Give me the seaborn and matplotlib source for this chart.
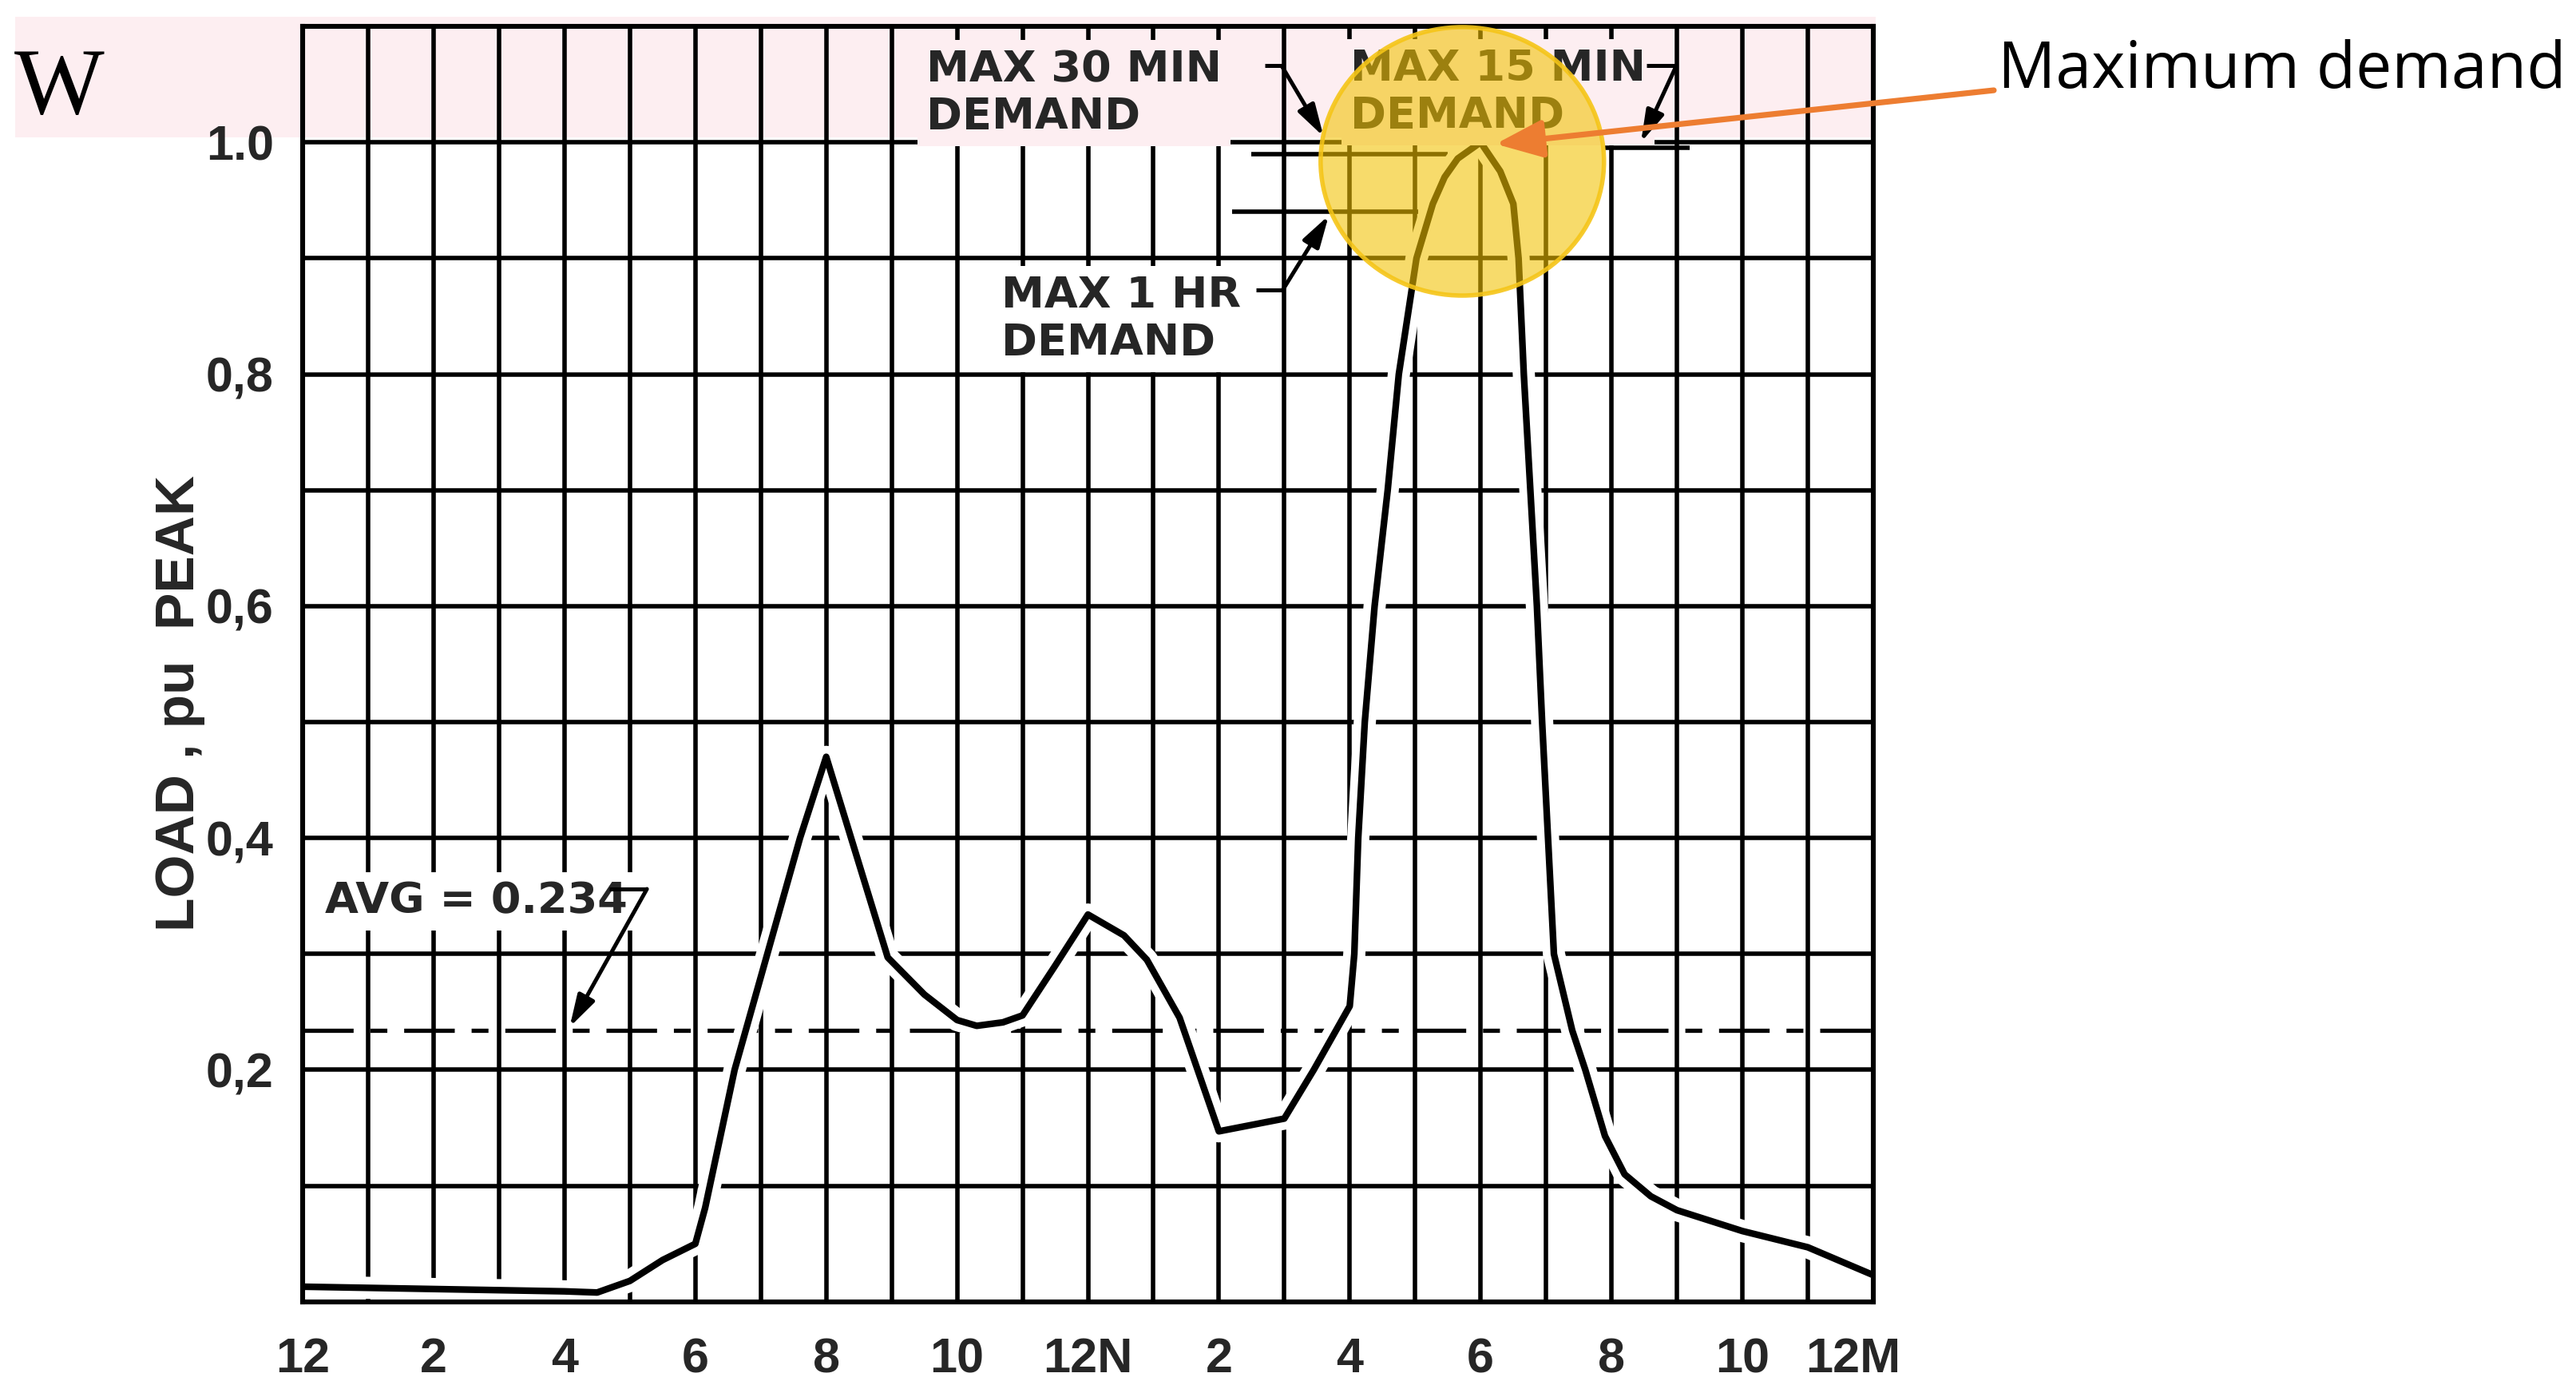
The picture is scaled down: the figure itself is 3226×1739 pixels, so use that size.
#!/usr/bin/env python3
"""Daily load curve (per-unit of peak) with demand annotations, redrawn from a scanned figure."""

import numpy as np
import pandas as pd
import matplotlib
matplotlib.use("Agg")
import matplotlib.pyplot as plt
import matplotlib.patheffects as pe
from matplotlib.patches import Ellipse, Rectangle
from matplotlib.transforms import ScaledTranslation
from matplotlib import font_manager
import seaborn as sns

# ── Values ──────────────────────────────────────────────────────────────────
HOURS = [0, 1, 2, 3, 4, 4.5, 5, 5.5, 6, 6.15, 6.6, 7.1, 7.6, 8, 8.94, 9.5, 10,
         10.3, 10.7, 11, 11.5, 12, 12.55, 12.9, 13.4, 14, 15, 15.45, 16, 16.07,
         16.13, 16.23, 16.38, 16.58, 16.75, 17.02, 17.27, 17.45, 17.65, 18,
         18.3, 18.5, 18.58, 18.66, 18.76, 18.86, 18.94, 19.03, 19.12, 19.4,
         19.6, 19.9, 20.2, 20.6, 21, 22, 23, 24]
LOAD = [0.013, 0.012, 0.011, 0.010, 0.009, 0.008, 0.018, 0.036, 0.050, 0.081,
        0.200, 0.300, 0.400, 0.470, 0.297, 0.265, 0.243, 0.238, 0.241, 0.247,
        0.290, 0.334, 0.316, 0.295, 0.245, 0.147, 0.158, 0.200, 0.255, 0.300,
        0.400, 0.500, 0.600, 0.700, 0.800, 0.900, 0.947, 0.970, 0.986, 1.000,
        0.975, 0.947, 0.900, 0.800, 0.700, 0.600, 0.500, 0.400, 0.300, 0.234,
        0.200, 0.143, 0.110, 0.091, 0.079, 0.061, 0.047, 0.023]

AVG_LOAD = 0.234
MAX_30MIN = 0.99
MAX_30MIN_SPAN = (14.5, 17.5)
MAX_15MIN = 0.995
MAX_15MIN_SPAN = (19.9, 21.2)
MAX_1HR = 0.94
MAX_1HR_SPAN = (14.2, 17.05)

HOUR_TICKS = list(range(25))
HOUR_LABELS = ["12", "", "2", "", "4", "", "6", "", "8", "", "10", "",
               "12N", "", "2", "", "4", "", "6", "", "8", "", "10", "", "12M"]
LOAD_TICKS = [0.1, 0.2, 0.3, 0.4, 0.5, 0.6, 0.7, 0.8, 0.9, 1.0]
LOAD_LABELS = ["", "0,2", "", "0,4", "", "0,6", "", "0,8", "", "1.0"]

PINK = "#fdeef1"
YELLOW = "#f2c200"
ORANGE = "#ed7d31"

_installed = {f.name for f in font_manager.fontManager.ttflist}
NARROW = "Liberation Sans Narrow" if "Liberation Sans Narrow" in _installed else "Liberation Sans"


def leader(ax, pts, tip):
    """Drafting-style leader: a short polyline ending in an arrow."""
    xs, ys = zip(*pts)
    ax.plot(xs, ys, color="black", lw=1.8, zorder=4.2, solid_capstyle="butt")
    ax.annotate("", xy=tip, xytext=pts[-1],
                arrowprops=dict(arrowstyle="-|>,head_length=0.55,head_width=0.16",
                                color="black", lw=1.8, shrinkA=0, shrinkB=0,
                                mutation_scale=22),
                zorder=4.2, annotation_clip=False)


def note(ax, x, y, s, bg):
    # y is the baseline of the last line
    ax.text(x, y, s, fontsize=19.5, fontweight="bold", ha="left", va="baseline",
            linespacing=1.17, zorder=4,
            bbox=dict(boxstyle="square,pad=0.2", fc=bg, ec="none"))


sns.set_style("white")
plt.rcParams["font.family"] = ["DejaVu Sans"]

fig = plt.figure(figsize=(16.13, 8.695), dpi=200)
ax = fig.add_axes([0.1175, 0.0628, 0.6097, 0.9182])
ax.patch.set_alpha(0)

# faint pink highlight band across the top row
fig.add_artist(Rectangle((0.006, 0.901), 0.722, 0.087, transform=fig.transFigure,
                         facecolor=PINK, edgecolor="none", zorder=-10))

# load curve
df = pd.DataFrame({"hour": HOURS, "load": LOAD})
sns.lineplot(data=df, x="hour", y="load", ax=ax, color="black", lw=3.0,
             estimator=None, sort=False, zorder=3)
curve = ax.lines[-1]
curve.set_path_effects([pe.Stroke(linewidth=10, foreground="white"), pe.Normal()])

# average and demand levels
ax.axhline(AVG_LOAD, color="black", lw=1.9, ls=(0, (12, 4, 4, 4)), zorder=1.5)
ax.hlines(MAX_30MIN, *MAX_30MIN_SPAN, color="black", lw=2.0, zorder=1.5)
ax.hlines(MAX_15MIN, *MAX_15MIN_SPAN, color="black", lw=2.0, zorder=1.5)
ax.hlines(MAX_1HR, *MAX_1HR_SPAN, color="black", lw=2.0, zorder=1.5)

# axes, grid, ticks
ax.set_xlim(0, 24)
ax.set_ylim(0, 1.1)
ax.set_xticks(HOUR_TICKS)
ax.set_xticklabels(HOUR_LABELS, fontfamily="Liberation Sans", fontweight="bold", fontsize=22)
ax.set_yticks(LOAD_TICKS)
ax.set_yticklabels(LOAD_LABELS, fontfamily="Liberation Sans", fontweight="bold", fontsize=22)
ax.grid(True, color="black", lw=2.0)
ax.set_axisbelow(True)
ax.tick_params(axis="x", length=0, pad=16)
ax.tick_params(axis="y", length=0, pad=13)
for sp in ax.spines.values():
    sp.set_visible(True)
    sp.set_color("black")
    sp.set_linewidth(2.2)
    sp.set_zorder(4.5)

# the closing "12M" sits a little inside the right border
last = ax.get_xticklabels()[-1]
last.set_transform(last.get_transform() + ScaledTranslation(-9 / 72, 0, fig.dpi_scale_trans))

ax.set_xlabel("")
ax.set_ylabel("LOAD , pu  PEAK", fontfamily=NARROW, fontweight="bold", fontsize=25)
ax.yaxis.set_label_coords(-0.062, 0.469)

# drafting notes
note(ax, 9.53, 1.0118, "MAX 30 MIN\nDEMAND", PINK)
note(ax, 16.01, 1.0125, "MAX 15 MIN\nDEMAND", PINK)
note(ax, 10.68, 0.8167, "MAX 1 HR\nDEMAND", "white")
note(ax, 0.34, 0.335, "AVG = 0.234", "white")

leader(ax, [(14.70, 1.066), (14.96, 1.066)], (15.6, 1.005))
leader(ax, [(20.53, 1.066), (20.99, 1.066)], (20.45, 1.0))
leader(ax, [(14.57, 0.873), (14.98, 0.873)], (15.68, 0.937))
leader(ax, [(4.69, 0.356), (5.26, 0.356)], (4.08, 0.237))

# highlight circle around the peak
ax.add_patch(Ellipse((17.72, 0.9836), 4.33, 0.2315, fc=YELLOW, ec="none",
                     alpha=0.58, zorder=6, clip_on=False))
ax.add_patch(Ellipse((17.72, 0.9836), 4.33, 0.2315, fc="none", ec="#f5c518",
                     lw=2.0, alpha=0.9, zorder=6, clip_on=False))

# callout
ax.annotate("", xy=(18.23, 0.9986), xycoords="data",
            xytext=(0.774, 0.935), textcoords="figure fraction",
            arrowprops=dict(arrowstyle="-|>,head_length=0.4,head_width=0.16",
                            color=ORANGE, lw=2.6, mutation_scale=45,
                            shrinkA=0, shrinkB=0),
            zorder=7, annotation_clip=False)
fig.text(0.7756, 0.9367, "Maximum demand", fontfamily="Open Sans", fontsize=29,
         ha="left", va="baseline", color="black")

fig.text(0.0229, 0.935, "W", fontfamily="Liberation Serif", fontsize=43,
         ha="center", va="center", color="black")

fig.savefig("out.png", dpi=200)
plt.close(fig)
